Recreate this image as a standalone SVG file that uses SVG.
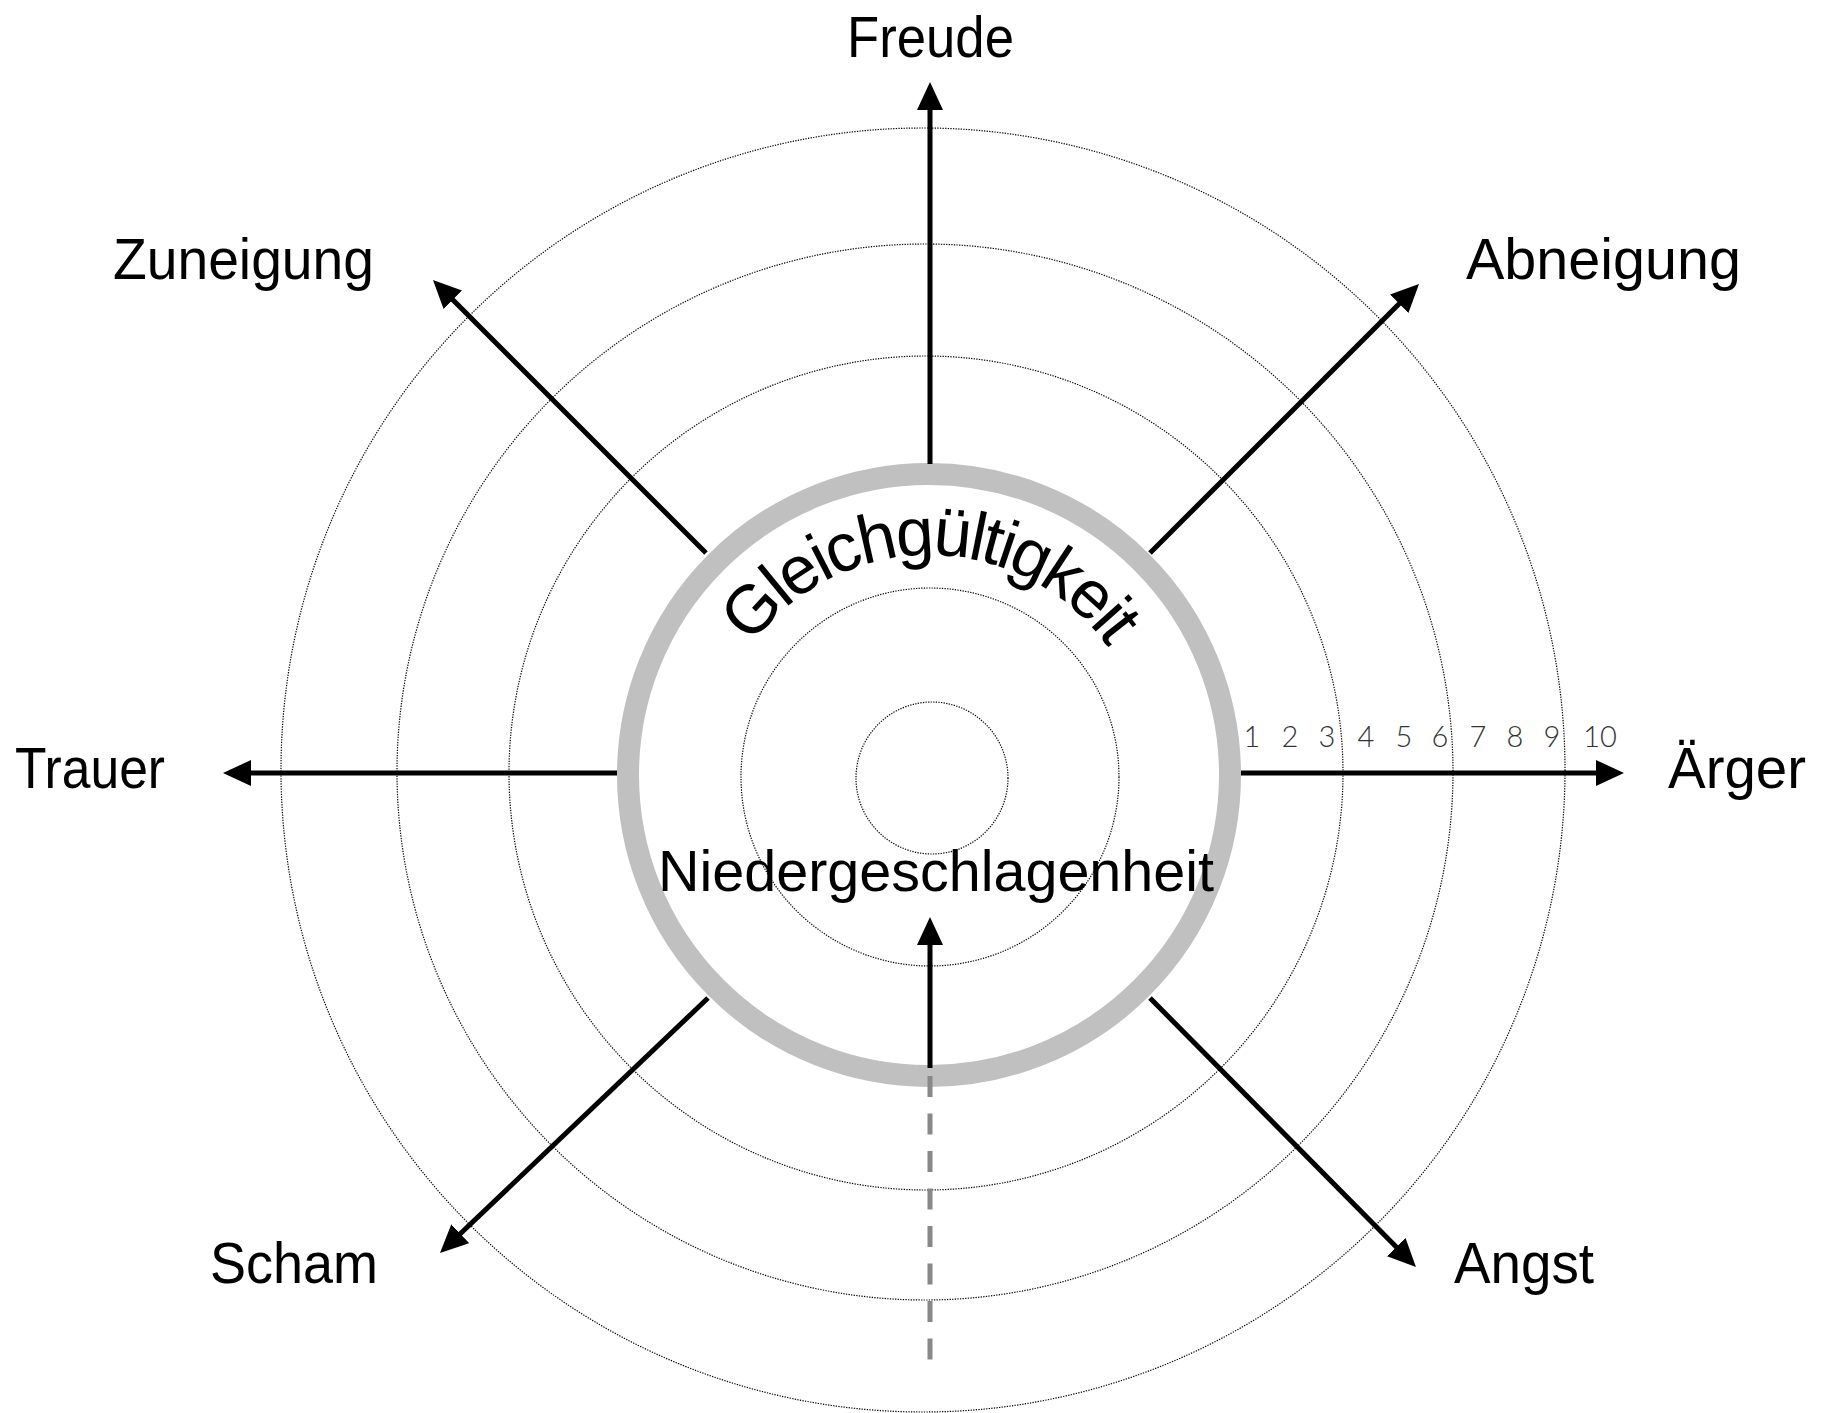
<svg xmlns="http://www.w3.org/2000/svg" width="1827" height="1413" viewBox="0 0 1827 1413">
<style>
.dot{fill:none;stroke:#000;stroke-width:1.2;stroke-dasharray:1.3 1.3}
.ax{fill:none;stroke:#000;stroke-width:5;marker-end:url(#ah)}
.lbl{font-family:"Liberation Sans",Arial,sans-serif;font-size:58px;fill:#000}
.arc{font-family:"Liberation Sans",Arial,sans-serif;font-size:68px;letter-spacing:-3px;fill:#000}
.num{font-family:Lato,"Open Sans",sans-serif;font-weight:300;font-size:29px;fill:#333;text-anchor:middle}
</style>
<defs>
<marker id="ah" markerUnits="userSpaceOnUse" markerWidth="28" markerHeight="26" viewBox="0 0 28 26" refX="12" refY="13" orient="auto">
<path d="M0,0 L28,13 L0,26 z" fill="#000"/>
</marker>
<path id="arc" d="M738.5,665 A220,220 0 0 1 1119.5,665"/>
</defs>
<rect width="1827" height="1413" fill="#fff"/>
<g id="scale-circles">
<circle class="dot" cx="932" cy="778" r="76"/>
<circle class="dot" cx="930" cy="777" r="189"/>
<circle class="dot" cx="926" cy="773" r="417"/>
<circle class="dot" cx="925" cy="772" r="528"/>
<circle class="dot" cx="923" cy="770" r="642"/>
</g>
<g id="node-gleichgueltigkeit">
<circle cx="929" cy="775" r="301" fill="none" stroke="#c0c0c0" stroke-width="22"/>
<text class="arc"><textPath href="#arc" startOffset="50%" text-anchor="middle">Gleichgültigkeit</textPath></text>
</g>
<g id="connectors">
<line class="ax" x1="1241" y1="773" x2="1608" y2="773"/>
<line class="ax" x1="617" y1="773" x2="239" y2="773"/>
<line class="ax" x1="930" y1="464" x2="930" y2="98"/>
<line class="ax" x1="930" y1="1068" x2="930" y2="933"/>
<line x1="930" y1="1076" x2="930" y2="1360" stroke="#888" stroke-width="5" stroke-dasharray="21 16.5"/>
<line class="ax" x1="706" y1="553" x2="444.3" y2="291.3"/>
<line class="ax" x1="1150" y1="553" x2="1407.7" y2="295.3"/>
<line class="ax" x1="708" y1="998" x2="451.6" y2="1242"/>
<line class="ax" x1="1150" y1="998" x2="1404.7" y2="1255.6"/>
</g>
<g id="scale-numbers">
<text class="num" x="1252" y="747">1</text>
<text class="num" x="1290" y="747">2</text>
<text class="num" x="1327" y="747">3</text>
<text class="num" x="1366" y="747">4</text>
<text class="num" x="1404" y="747">5</text>
<text class="num" x="1440" y="747">6</text>
<text class="num" x="1478" y="747">7</text>
<text class="num" x="1515" y="747">8</text>
<text class="num" x="1552" y="747">9</text>
<text class="num" x="1600" y="747">10</text>
</g>
<g id="node-freude"><text class="lbl" x="847" y="57" textLength="167" lengthAdjust="spacingAndGlyphs">Freude</text></g>
<g id="node-zuneigung"><text class="lbl" x="113" y="279" textLength="261" lengthAdjust="spacingAndGlyphs">Zuneigung</text></g>
<g id="node-abneigung"><text class="lbl" x="1466" y="279" textLength="275" lengthAdjust="spacingAndGlyphs">Abneigung</text></g>
<g id="node-trauer"><text class="lbl" x="15" y="788" textLength="150" lengthAdjust="spacingAndGlyphs">Trauer</text></g>
<g id="node-aerger"><text class="lbl" x="1668" y="788" textLength="138" lengthAdjust="spacingAndGlyphs">Ärger</text></g>
<g id="node-scham"><text class="lbl" x="210" y="1283" textLength="168" lengthAdjust="spacingAndGlyphs">Scham</text></g>
<g id="node-angst"><text class="lbl" x="1454" y="1283" textLength="140" lengthAdjust="spacingAndGlyphs">Angst</text></g>
<g id="node-niedergeschlagenheit"><text class="lbl" x="658" y="891" textLength="556" lengthAdjust="spacingAndGlyphs">Niedergeschlagenheit</text></g>
</svg>
